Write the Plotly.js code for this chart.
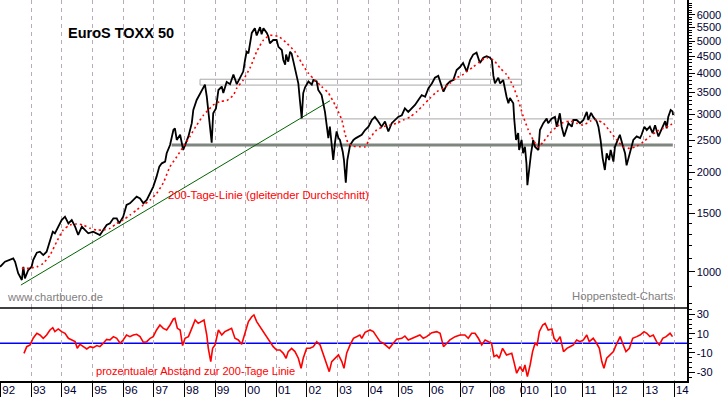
<!DOCTYPE html>
<html>
<head>
<meta charset="utf-8">
<script src="https://cdn.plot.ly/plotly-3.0.1.min.js"></script>
<style>html,body{margin:0;padding:0;background:#fff;}#chart{width:723px;height:397px;}</style>
</head>
<body>
<div id="chart"></div>
<script>
// ---- data ----
const years = [1992,1993,1994,1995,1996,1997,1998,1999,2000,2001,2002,2003,2004,2005,2006,2007,2008,2009,2010,2011,2012,2013,2014];
const yearLabels = ['92','93','94','95','96','97','98','99','00','01','02','03','04','05','06','07','08','010','10','11','12','13','14'];

const priceTicks = [1000,1500,2000,2500,3000,3500,4000,4500,5000,5500,6000];
const priceTickLabels = ['1000','1500','2000','2500','3000','3500','4000','4500','5000','5500','6000'];
const priceMinorTicks = [800,900,1100,1200,1300,1400,1600,1700,1800,1900,2100,2200,2300,2400,2600,2700,2800,2900,3100,3200,3300,3400,3600,3700,3800,3900,4100,4200,4300,4400,4600,4700,4800,4900,5100,5200,5300,5400,5600,5700,5800,5900,6100,6200,6300,6400,6500];
const oscTicks = [30,10,-10,-30];
const oscTickLabels = ['30','10','-10','-30'];

const priceYears = [1991.98,1992.03,1992.14,1992.41,1992.47,1992.57,1992.69,1992.74,1992.79,1992.90,
1993.01,1993.06,1993.18,1993.28,1993.39,1993.50,1993.61,1993.70,1993.77,1993.88,
1993.99,1994.10,1994.21,1994.32,1994.43,1994.53,1994.65,1994.75,1994.86,1995.02,
1995.14,1995.24,1995.35,1995.46,1995.57,1995.68,1995.79,1995.87,1996.00,1996.11,
1996.22,1996.33,1996.44,1996.55,1996.66,1996.77,1996.88,1996.98,1997.09,1997.18,
1997.26,1997.37,1997.42,1997.53,1997.64,1997.69,1997.75,1997.86,1997.96,1998.02,
1998.13,1998.24,1998.29,1998.40,1998.51,1998.62,1998.67,1998.73,1998.78,1998.84,
1998.89,1998.94,1999.03,1999.11,1999.22,1999.27,1999.38,1999.49,1999.60,1999.71,
1999.81,1999.92,1999.98,2000.03,2000.09,2000.14,2000.20,2000.30,2000.36,2000.47,
2000.52,2000.58,2000.69,2000.74,2000.79,2000.90,2001.01,2001.07,2001.18,2001.23,
2001.29,2001.32,2001.39,2001.45,2001.50,2001.56,2001.61,2001.72,2001.77,2001.83,
2001.88,2001.94,2002.05,2002.16,2002.21,2002.32,2002.37,2002.48,2002.59,2002.64,
2002.70,2002.75,2002.81,2002.86,2002.92,2002.97,2003.03,2003.08,2003.17,2003.21,
2003.27,2003.32,2003.41,2003.52,2003.60,2003.68,2003.79,2003.90,2004.01,2004.12,
2004.22,2004.33,2004.44,2004.55,2004.66,2004.77,2004.88,2004.98,2005.10,2005.20,
2005.31,2005.42,2005.53,2005.64,2005.75,2005.86,2005.97,2006.08,2006.18,2006.29,
2006.37,2006.46,2006.57,2006.67,2006.78,2006.89,2007.00,2007.10,2007.22,2007.33,
2007.43,2007.54,2007.65,2007.76,2007.87,2007.98,2008.04,2008.09,2008.14,2008.25,
2008.31,2008.41,2008.52,2008.58,2008.63,2008.74,2008.77,2008.83,2008.90,2008.93,
2009.01,2009.06,2009.12,2009.17,2009.20,2009.26,2009.32,2009.39,2009.45,2009.56,
2009.61,2009.72,2009.83,2009.88,2009.99,2010.10,2010.16,2010.26,2010.32,2010.40,
2010.46,2010.54,2010.65,2010.70,2010.81,2010.92,2011.03,2011.14,2011.19,2011.28,
2011.35,2011.46,2011.52,2011.59,2011.66,2011.73,2011.79,2011.87,2011.92,2012.01,
2012.06,2012.14,2012.22,2012.31,2012.39,2012.44,2012.52,2012.58,2012.66,2012.77,
2012.88,2012.93,2013.02,2013.10,2013.20,2013.29,2013.37,2013.48,2013.59,2013.70,
2013.75,2013.80,2013.88,2013.94,2013.96];
const priceValues = [1035,1048,1072,1098,1072,989,944,1035,955,1012,
1035,1085,1142,1150,1123,1150,1248,1322,1307,1369,
1434,1468,1401,1434,1369,1292,1369,1338,1307,1322,
1307,1292,1338,1385,1401,1451,1451,1401,1468,1593,
1612,1649,1688,1668,1612,1649,1726,1808,1941,2082,
2130,2155,2285,2420,2688,2720,2507,2600,2338,2420,
2570,2818,3090,3314,3478,3640,3690,3390,3090,2750,
2460,3020,3124,3553,3640,3478,3760,3700,3960,3700,
3870,4040,4380,4640,4590,4920,5290,5470,5200,5510,
5240,5470,5290,5160,4920,5036,5036,4800,4697,4380,
4240,4550,4330,4640,4580,4330,4140,3720,3314,2915,
3478,3620,3770,3690,3810,3770,3553,3430,3050,2750,
2540,2750,2338,2180,2475,2660,2540,2507,2310,2180,
1860,2180,2420,2507,2540,2570,2600,2688,2750,2882,
2945,2850,2750,2850,2660,2818,2882,2945,2980,3124,
3050,3124,3200,3314,3430,3390,3600,3720,3870,3920,
3690,3510,3690,3770,3810,4085,4170,4290,4040,4380,
4550,4610,4290,4450,4500,4450,4380,3920,3720,3870,
3720,3810,3390,3240,3360,3240,2910,2507,2630,2338,
2507,2285,2390,2130,1830,2082,2285,2507,2390,2338,
2688,2818,2910,2818,2910,2945,2750,3020,2750,2570,
2688,2818,2750,2882,2882,2818,2882,3050,2882,3030,
2945,2860,2750,2507,2205,2033,2285,2180,2338,2155,
2390,2507,2600,2420,2285,2100,2230,2338,2507,2570,
2540,2600,2750,2688,2750,2630,2780,2570,2720,2860,
2720,2945,3090,3060,2980];

const maYears = [1992.69,1992.96,1993.18,1993.39,1993.61,1993.83,1994.04,1994.26,1994.48,1994.70,1994.92,1995.14,1995.35,1995.57,1995.79,1996.00,1996.22,1996.44,1996.66,1996.88,1997.09,1997.31,1997.53,1997.75,1997.96,1998.18,1998.40,1998.62,1998.78,1998.94,1999.16,1999.38,1999.60,1999.71,1999.92,2000.14,2000.36,2000.58,2000.79,2001.07,2001.34,2001.61,2001.83,2002.05,2002.26,2002.48,2002.70,2002.92,2003.14,2003.24,2003.35,2003.52,2003.73,2003.90,2004.06,2004.28,2004.50,2004.71,2004.93,2005.15,2005.37,2005.58,2005.80,2006.02,2006.24,2006.46,2006.67,2006.89,2007.11,2007.22,2007.43,2007.65,2007.87,2008.09,2008.31,2008.52,2008.74,2008.90,2009.07,2009.23,2009.39,2009.56,2009.72,2009.94,2010.16,2010.37,2010.59,2010.81,2011.03,2011.25,2011.46,2011.68,2011.90,2012.12,2012.33,2012.55,2012.77,2012.99,2013.20,2013.42,2013.64,2013.86,2013.97];
const maValues = [1024,1024,1035,1060,1123,1233,1338,1385,1395,1385,1353,1338,1338,1353,1401,1434,1485,1538,1593,1649,1726,1859,2082,2230,2390,2570,2780,2980,3090,3200,3280,3300,3430,3600,3810,4140,4640,5036,5200,5160,4930,4640,4290,3990,3810,3640,3478,3200,2882,2630,2450,2400,2390,2390,2540,2688,2750,2780,2818,2882,2945,3050,3200,3355,3510,3600,3720,3870,3960,4040,4170,4330,4450,4380,4140,3960,3640,3314,2945,2688,2507,2390,2475,2630,2750,2830,2860,2818,2780,2860,2882,2818,2660,2507,2390,2365,2400,2475,2570,2660,2720,2780,2830];

const oscYears = [1992.76,1992.85,1992.96,1993.06,1993.18,1993.28,1993.39,1993.50,1993.61,1993.70,
1993.77,1993.88,1993.99,1994.10,1994.21,1994.32,1994.43,1994.50,1994.59,1994.70,
1994.81,1994.92,1995.02,1995.14,1995.24,1995.35,1995.46,1995.57,1995.68,1995.79,
1995.90,1996.00,1996.11,1996.22,1996.33,1996.44,1996.55,1996.66,1996.77,1996.88,
1996.98,1997.09,1997.20,1997.31,1997.42,1997.53,1997.64,1997.69,1997.77,1997.86,
1997.94,1998.02,1998.13,1998.24,1998.35,1998.45,1998.56,1998.64,1998.73,1998.78,
1998.86,1998.92,1999.00,1999.11,1999.22,1999.32,1999.43,1999.54,1999.65,1999.76,
1999.87,1999.98,2000.09,2000.20,2000.27,2000.36,2000.47,2000.58,2000.69,2000.79,
2000.90,2001.01,2001.12,2001.23,2001.32,2001.39,2001.50,2001.61,2001.72,2001.81,
2001.88,2001.99,2002.10,2002.21,2002.32,2002.43,2002.54,2002.65,2002.73,2002.81,
2002.92,2003.03,2003.14,2003.21,2003.30,2003.35,2003.41,2003.52,2003.63,2003.73,
2003.79,2003.90,2004.06,2004.17,2004.28,2004.39,2004.50,2004.61,2004.69,2004.82,
2004.93,2005.10,2005.20,2005.31,2005.42,2005.53,2005.69,2005.80,2005.91,2006.08,
2006.24,2006.35,2006.46,2006.57,2006.67,2006.84,2007.00,2007.16,2007.27,2007.38,
2007.49,2007.60,2007.71,2007.82,2007.92,2008.03,2008.11,2008.20,2008.28,2008.39,
2008.52,2008.69,2008.76,2008.85,2008.96,2009.05,2009.12,2009.20,2009.29,2009.37,
2009.45,2009.52,2009.59,2009.70,2009.78,2009.88,2010.00,2010.07,2010.16,2010.27,
2010.38,2010.49,2010.59,2010.70,2010.81,2010.92,2011.03,2011.14,2011.22,2011.35,
2011.46,2011.55,2011.63,2011.70,2011.79,2011.90,2012.01,2012.10,2012.23,2012.31,
2012.42,2012.53,2012.64,2012.77,2012.88,2013.01,2013.10,2013.20,2013.31,2013.42,
2013.51,2013.62,2013.73,2013.86,2013.94];
const oscValues = [-10.4,-3.5,-1.7,5.2,10.4,8.6,5.2,8.6,13.8,16.2,
12.1,14.9,12.1,10.4,5.2,3.5,1.7,-5.2,-1,-3.5,
-5.9,-3.5,-4.5,-2.4,-3.5,0,4.1,3.5,6.9,5.2,
0,3.5,8.6,6.9,8.6,9.3,6.9,1,1.7,5.2,
6.9,13.8,19,15.5,13.8,19,25.2,25.9,15.5,13.8,
-2.4,5.2,6.9,15.5,24.2,20.7,22.5,24.2,8.6,-5.2,
-19,-5.2,-1.7,13.8,8.6,12.1,13.8,15.5,5.2,3.5,
-1,12.1,22.5,27.6,29.4,22.5,17.3,12.1,6.9,1.7,
-3.5,-6.9,-6.9,-10.4,-15.5,-8.6,-5.2,-8.6,-15.5,-25.9,
-15.5,-5.2,-5.2,-3.5,1.7,-1.7,-12.1,-20.7,-29.4,-19,
-15.5,-12.1,-19,-26,-10,-5.2,-1.7,5.2,6.9,8.6,
5,11.4,13.8,12.1,6.9,1.7,0,-3.5,-5.2,0,
4.1,5.2,7.6,3.5,5.2,6.9,8.6,5.2,6.9,11,
12.1,10.4,-3.5,0,3.5,6.9,8.6,8.6,5.2,10.4,
10.4,5.2,-1.7,3.5,1.7,0,-13.8,-12.1,-15.5,-5.2,
-12.1,-10.4,-19,-31,-24.2,-29.4,-22.5,-34.5,-22.5,-8.6,
0,-1.7,12.1,19,20.7,13.8,14.9,5.2,1.7,6.9,
-8.6,-5.2,-3.5,-1.7,3.5,1.7,3.5,8.6,1.7,5.2,
0,-5.2,-19,-25.9,-15.5,-12.1,-8.6,-1.7,6.9,0,
-8.6,-5.2,5.2,6.9,8.6,12.1,10.4,6.9,8.6,1.7,
-1.7,5.2,6.9,10.4,6.9];

// guide lines drawn in the price panel
const trendYears = [1992.66, 2002.755];
const trendValues = [911, 3297];
const supportYears = [1997.58, 2013.95];
const supportLevel = 2420;
const boxYears = [1998.51, 2009.01];
const boxLevels = [3677, 3830];
const resistYears = [2001.78, 2013.96];
const resistLevel = 2904;

// ---- figure ----
const traces = [
  {x: supportYears, y: [supportLevel, supportLevel], xaxis:'x', yaxis:'y', mode:'lines',
   line:{color:'#7f867f', width:3}, hoverinfo:'skip'},
  {x: [boxYears[0], boxYears[1], boxYears[1], boxYears[0], boxYears[0]],
   y: [boxLevels[0], boxLevels[0], boxLevels[1], boxLevels[1], boxLevels[0]],
   xaxis:'x', yaxis:'y', mode:'lines', line:{color:'#a8a8a8', width:1}, hoverinfo:'skip'},
  {x: resistYears, y: [resistLevel, resistLevel], xaxis:'x', yaxis:'y', mode:'lines',
   line:{color:'#a8a8a8', width:1}, hoverinfo:'skip'},
  {x: trendYears, y: trendValues, xaxis:'x', yaxis:'y', mode:'lines',
   line:{color:'#006400', width:1}, hoverinfo:'skip'},
  {x: priceYears, y: priceValues, xaxis:'x', yaxis:'y', mode:'lines',
   line:{color:'#000000', width:1.8}, hoverinfo:'skip'},
  {x: maYears, y: maValues, xaxis:'x', yaxis:'y', mode:'lines', line:{shape:'spline', smoothing:0.6,
   color:'#ff0000', width:1.6, dash:'2px,3px'}, hoverinfo:'skip'},
  {x: oscYears, y: oscValues, xaxis:'x', yaxis:'y2', mode:'lines',
   line:{color:'#ff0000', width:1.6}, hoverinfo:'skip'}
];

const W = 687, H = 381;
const px = v => v / W;
const py = v => (H - v) / H;
const sep = (H - 308) / H;

const tickFont = {family:'Liberation Sans, Arial, sans-serif', size:11, color:'#000033'};

const layout = {
  width: 723, height: 397,
  margin: {l:0, r:36, t:0, b:16, pad:0},
  paper_bgcolor: '#ffffff', plot_bgcolor: '#ffffff',
  showlegend: false,
  font: {family:'Liberation Sans, Arial, sans-serif', size:11, color:'#000'},
  xaxis: {
    domain:[0,1], anchor:'y2', range:[1991.977, 2014.413], type:'linear',
    tickmode:'array', tickvals: years, ticktext: yearLabels,
    ticks:'outside', ticklen:16, tickwidth:1, tickcolor:'#000',
    ticklabelshift: 8, ticklabelstandoff: -18,
    showline:true, linecolor:'#000', linewidth:1.5,
    showgrid:true, gridcolor:'#b8acb8', gridwidth:1, griddash:'4px,4px',
    zeroline:false, tickfont: {family:'Liberation Sans, Arial, sans-serif', size:11.5, color:'#000033'},
    fixedrange:true, automargin:false
  },
  yaxis: {
    domain:[sep,1], anchor:'x', side:'right', type:'log',
    range:[2.890, 3.8233],
    tickmode:'array', tickvals: priceTicks, ticktext: priceTickLabels,
    ticks:'outside', ticklen:6, tickcolor:'#000', tickwidth:1,
    minor: {tickmode:'array', tickvals: priceMinorTicks, ticks:'outside', ticklen:3, tickcolor:'#000', tickwidth:1, showgrid:false},
    showline:true, linecolor:'#000', linewidth:1.5,
    showgrid:false, zeroline:false, tickfont: tickFont, fixedrange:true, automargin:false
  },
  yaxis2: {
    domain:[0,sep], anchor:'x', side:'right', type:'linear',
    range:[-39.1, 36.6],
    tickmode:'array', tickvals: oscTicks, ticktext: oscTickLabels,
    ticks:'outside', ticklen:6, tickcolor:'#000', tickwidth:1,
    minor: {dtick:5, tick0:0, ticks:'outside', ticklen:3, tickcolor:'#000', tickwidth:1, showgrid:false},
    showline:true, linecolor:'#000', linewidth:1.5,
    showgrid:false, zeroline:false, tickfont: tickFont, fixedrange:true, automargin:false
  },
  shapes: [
    {type:'line', xref:'paper', x0:0, x1:1, yref:'y2', y0:0, y1:0, layer:'below',
     line:{color:'#0000ff', width:1.5}},
    {type:'line', xref:'paper', x0:0, x1:1, yref:'paper', y0:sep, y1:sep,
     line:{color:'#000000', width:1.5}}
  ],
  annotations: [
    {text:'<b>EuroS TOXX 50</b>', xref:'paper', yref:'paper', x:px(120.5), y:py(33.3),
     xanchor:'center', yanchor:'middle', showarrow:false,
     font:{family:'Liberation Sans, Arial, sans-serif', size:14.5, color:'#000'}},
    {text:'200-Tage-Linie (gleitender Durchschnitt)', xref:'paper', yref:'paper', x:px(166), y:py(195),
     xanchor:'left', yanchor:'middle', showarrow:false,
     font:{family:'Liberation Sans, Arial, sans-serif', size:11.3, color:'#ff0000'}},
    {text:'www.chartbuero.de', xref:'paper', yref:'paper', x:px(5), y:py(296.5),
     xanchor:'left', yanchor:'middle', showarrow:false,
     font:{family:'Liberation Sans, Arial, sans-serif', size:11.1, color:'#808080'}},
    {text:'Hoppenstedt-Charts', xref:'paper', yref:'paper', x:px(674.5), y:py(295.7),
     xanchor:'right', yanchor:'middle', showarrow:false,
     font:{family:'Liberation Sans, Arial, sans-serif', size:11.3, color:'#808080'}},
    {text:'prozentualer Abstand zur 200-Tage Linie', xref:'paper', yref:'paper', x:px(94), y:py(371),
     xanchor:'left', yanchor:'middle', showarrow:false,
     font:{family:'Liberation Sans, Arial, sans-serif', size:11.1, color:'#ff0000'}}
  ]
};

Plotly.newPlot('chart', traces, layout, {staticPlot:true, displayModeBar:false});
</script>
</body>
</html>
